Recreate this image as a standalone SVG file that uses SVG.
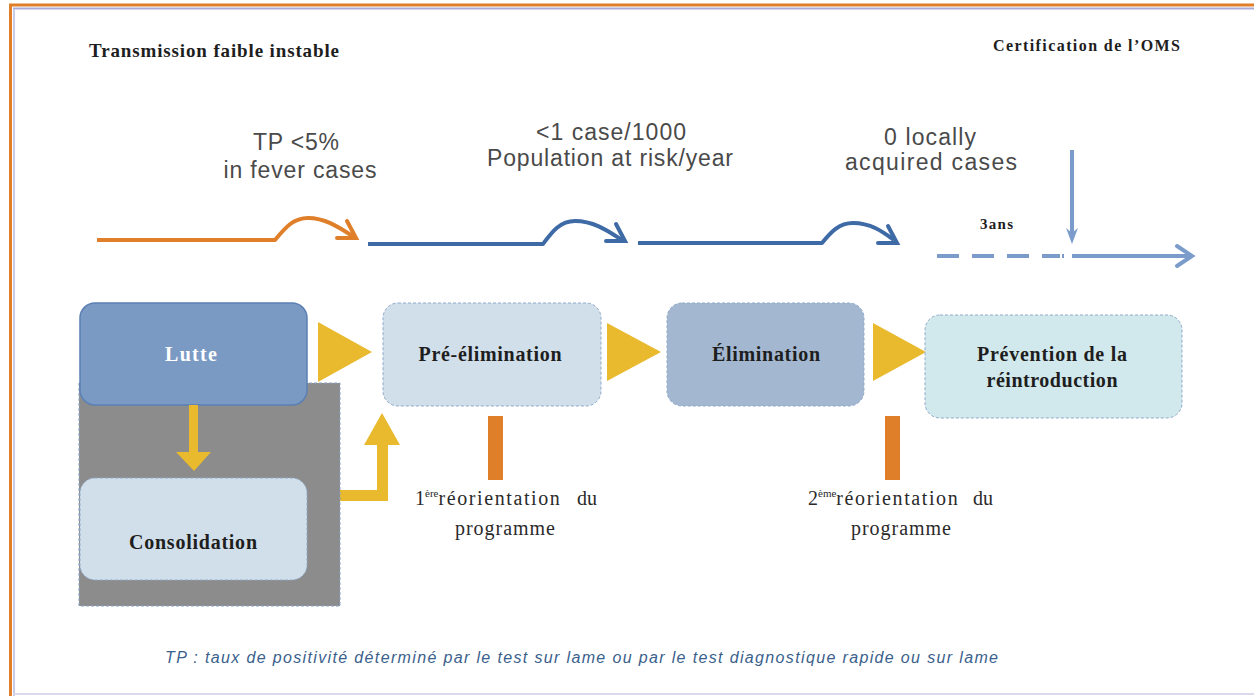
<svg xmlns="http://www.w3.org/2000/svg" width="1254" height="696" viewBox="0 0 1254 696">
  <style>
    .serifb { font-family: "Liberation Serif", "Times New Roman", serif; font-weight: bold; fill: #1e1e1e; }
    .serif { font-family: "Liberation Serif", "Times New Roman", serif; fill: #2a2a2a; }
    .label { font-family: "Liberation Sans", Arial, sans-serif; fill: #4a4a4a; font-size: 23px; }
    .node-label { font-size: 20px; text-anchor: middle; }
    .flow { fill: none; stroke-width: 4; stroke-linecap: butt; stroke-linejoin: round; }
    .orange { stroke: #E07F2A; }
    .blue { stroke: #3E6AA6; }
    .pale { stroke: #7B9CCB; }
    .chev { fill: none; stroke-width: 4; stroke-linecap: round; stroke-linejoin: miter; }
    .yellow { fill: #E9B92E; }
    .bar { fill: #E07F2A; }
    .light { fill: #D0DFEA; stroke: #8FA9C9; stroke-width: 1; stroke-dasharray: 3 2; }
    .wide { letter-spacing: 1.6px; }
  </style>

  <!-- page frame -->
  <rect x="0" y="0" width="1254" height="696" fill="#ffffff"/>
  <line x1="9" y1="5" x2="1254" y2="5" stroke="#E07F2A" stroke-width="3"/>
  <line x1="13" y1="8.5" x2="1254" y2="8.5" stroke="#ABABDA" stroke-width="2"/>
  <line x1="10.5" y1="4" x2="10.5" y2="696" stroke="#E07F2A" stroke-width="3"/>
  <line x1="14" y1="9" x2="14" y2="696" stroke="#C9C9EA" stroke-width="2"/>
  <line x1="14" y1="694" x2="1254" y2="694" stroke="#DADAEC" stroke-width="2"/>

  <!-- headers -->
  <text class="serifb" x="89" y="57" font-size="19" textLength="250" lengthAdjust="spacing">Transmission faible instable</text>
  <text class="serifb" x="993" y="51" font-size="16" textLength="187" lengthAdjust="spacing">Certification de l’OMS</text>

  <!-- thresholds -->
  <g class="label" text-anchor="middle">
    <text x="296" y="150" textLength="86" lengthAdjust="spacing">TP &lt;5%</text>
    <text x="300" y="178" textLength="153" lengthAdjust="spacing">in fever cases</text>
    <text x="611" y="140" textLength="150" lengthAdjust="spacing">&lt;1 case/1000</text>
    <text x="610" y="166" textLength="246" lengthAdjust="spacing">Population at risk/year</text>
    <text x="930" y="145" textLength="92" lengthAdjust="spacing">0 locally</text>
    <text x="931" y="170" textLength="172" lengthAdjust="spacing">acquired cases</text>
  </g>
  <text class="serifb" x="980" y="229" font-size="15" textLength="33" lengthAdjust="spacing">3ans</text>

  <!-- timeline and stage connectors -->
  <g id="connectors">
    <path class="flow orange" d="M97,240 H275 C285,228 293,218 308,218 C326,218 340,228 354,237"/>
    <polyline class="chev orange" points="347,221 356,238 337,238"/>

    <path class="flow blue" d="M368,244 H543 C552,232 560,221 575,221 C594,221 608,231 622,240"/>
    <polyline class="chev blue" points="616,224 625,241 606,241"/>

    <path class="flow blue" d="M638,243 H822 C831,232 839,223 853,223 C871,223 883,232 894,240"/>
    <polyline class="chev blue" points="888,226 897,243 878,243"/>

    <line class="flow pale" x1="937" y1="256" x2="1060" y2="256" stroke-dasharray="22 13"/>
    <line class="flow pale" x1="1062" y1="256" x2="1064" y2="256"/>
    <line class="flow pale" x1="1072" y1="256" x2="1191" y2="256"/>
    <polyline class="chev pale" points="1177,246 1192,256 1177,266"/>
    <line class="flow pale" x1="1072" y1="150" x2="1072" y2="238" stroke-width="3"/>
    <polygon points="1066,228 1072,244 1078,228 1072,233" fill="#7B9CCB"/>

    <!-- stage arrows -->
    <polygon class="yellow" points="318,322 372,352 318,382"/>
    <polygon class="yellow" points="607,323 661,352 607,381"/>
    <polygon class="yellow" points="873,323 926,352 873,381"/>

    <!-- Consolidation back up to Pré-élimination -->
    <polygon class="yellow" points="340,490 377,490 377,445 364,445 382,413 400,445 388,445 388,501 340,501"/>
  </g>

  <!-- gray backing of the Lutte/Consolidation block -->
  <rect x="79" y="383" width="261" height="223" fill="#8C8C8C" stroke="#8AA3C6" stroke-width="1" stroke-dasharray="3 2"/>

  <g id="lutte">
    <rect x="80" y="303" width="227" height="102" rx="15" fill="#7A9AC4" stroke="#5C80B4" stroke-width="1.5"/>
    <text class="serifb node-label" x="191" y="361" style="fill:#ffffff" textLength="52" lengthAdjust="spacing">Lutte</text>
  </g>

  <!-- Lutte down to Consolidation, over the gray block -->
  <polygon class="yellow" points="189,405 198,405 198,452 211,452 194,471 176,452 189,452"/>

  <g id="consolidation">
    <rect class="light" x="80" y="478" width="227" height="102" rx="15"/>
    <text class="serifb node-label" x="193" y="549" textLength="128" lengthAdjust="spacing">Consolidation</text>
  </g>

  <g id="pre-elimination">
    <rect class="light" x="383" y="303" width="218" height="103" rx="15"/>
    <text class="serifb node-label" x="490" y="361" textLength="143" lengthAdjust="spacing">Pré-élimination</text>
  </g>

  <g id="elimination">
    <rect x="667" y="303" width="197" height="103" rx="15" fill="#A3B8D0" stroke="#8FA9C9" stroke-width="1" stroke-dasharray="3 2"/>
    <text class="serifb node-label" x="766" y="361" textLength="108" lengthAdjust="spacing">Élimination</text>
  </g>

  <g id="prevention">
    <rect x="925" y="315" width="257" height="103" rx="15" fill="#D1E8EC" stroke="#8FA9C9" stroke-width="1" stroke-dasharray="3 2"/>
    <text class="serifb node-label" x="1052" y="361" textLength="150" lengthAdjust="spacing">Prévention de la</text>
    <text class="serifb node-label" x="1052" y="387" textLength="131" lengthAdjust="spacing">réintroduction</text>
  </g>

  <g id="reorientation-1">
    <rect class="bar" x="488" y="416" width="15" height="64"/>
    <text class="serif" x="415" y="505" font-size="20">1<tspan font-size="11" dy="-8">ère</tspan><tspan class="wide" dy="8">réorientation</tspan><tspan x="577">du</tspan></text>
    <text class="serif" x="505" y="535" font-size="20" text-anchor="middle" textLength="100" lengthAdjust="spacing">programme</text>
  </g>

  <g id="reorientation-2">
    <rect class="bar" x="885" y="416" width="15" height="64"/>
    <text class="serif" x="808" y="505" font-size="20">2<tspan font-size="11" dy="-8">ème</tspan><tspan class="wide" dy="8">réorientation</tspan><tspan x="973">du</tspan></text>
    <text class="serif" x="901" y="535" font-size="20" text-anchor="middle" textLength="100" lengthAdjust="spacing">programme</text>
  </g>

  <!-- footnote -->
  <text x="165" y="663" font-family="'Liberation Sans', Arial, sans-serif" font-style="italic" font-size="16" fill="#3A5F8C" textLength="833" lengthAdjust="spacing">TP : taux de positivité déterminé par le test sur lame ou par le test diagnostique rapide ou sur lame</text>
</svg>
